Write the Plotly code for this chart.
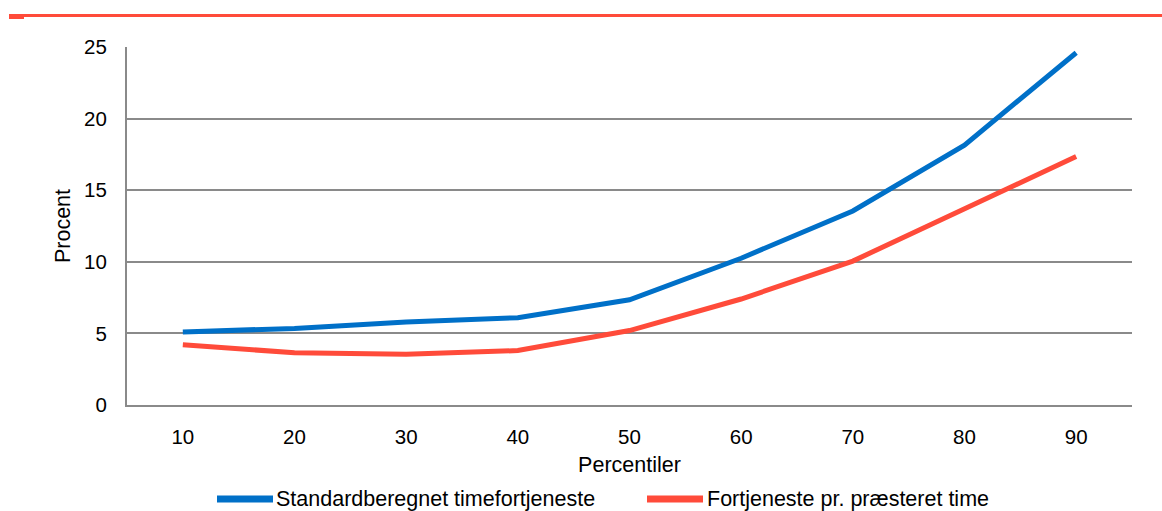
import plotly.graph_objects as go

# Percentiles on the x axis
percentiles = ["10", "20", "30", "40", "50", "60", "70", "80", "90"]

# Series values (percent)
standard_name = "Standardberegnet timefortjeneste"
standard_vals = [5.1, 5.35, 5.8, 6.1, 7.35, 10.25, 13.55, 18.15, 24.6]

performed_name = "Fortjeneste pr. præsteret time"
performed_vals = [4.2, 3.65, 3.55, 3.8, 5.2, 7.4, 10.05, 13.7, 17.35]

y_ticks = [0, 5, 10, 15, 20, 25]

BLUE = "#0070C8"
RED = "#FF4B3A"
GRID = "#8a8a8a"
FONT = "Liberation Sans, Arial, sans-serif"

W, H = 1162, 511
L, R, T, B = 127, 30, 47, 106
PW, PH = W - L - R, H - T - B


def px(x):
    return (x - L) / PW


def py(y):
    return (H - B - y) / PH


fig = go.Figure()
fig.add_trace(go.Scatter(x=percentiles, y=standard_vals, name=standard_name, mode="lines",
                         line=dict(color=BLUE, width=5), showlegend=False))
fig.add_trace(go.Scatter(x=percentiles, y=performed_vals, name=performed_name, mode="lines",
                         line=dict(color=RED, width=5), showlegend=False))

shapes = [
    # red rule across the top of the page
    dict(type="rect", xref="paper", yref="paper", x0=px(9), x1=px(W), y0=py(17), y1=py(14),
         fillcolor=RED, line=dict(width=0), layer="above"),
    dict(type="rect", xref="paper", yref="paper", x0=px(9), x1=px(24), y0=py(19), y1=py(14),
         fillcolor=RED, line=dict(width=0), layer="above"),
]

annotations = []
# legend drawn by hand with long line keys
legend_items = [(standard_name, BLUE, 217, 273, 274), (performed_name, RED, 647, 703, 705)]
for name, color, x0, x1, xt in legend_items:
    shapes.append(dict(type="line", xref="paper", yref="paper", x0=px(x0), x1=px(x1),
                       y0=py(499), y1=py(499), line=dict(color=color, width=7)))
    annotations.append(dict(text=name, xref="paper", yref="paper", x=px(xt), y=py(499),
                            xanchor="left", yanchor="middle", showarrow=False,
                            font=dict(family=FONT, size=21.5, color="#000000")))

fig.update_layout(
    width=W, height=H,
    margin=dict(l=L, r=R, t=T, b=B),
    paper_bgcolor="white", plot_bgcolor="white",
    font=dict(family=FONT, size=20, color="#000000"),
    shapes=shapes,
    annotations=annotations,
    showlegend=False,
)

fig.update_xaxes(
    type="category",
    range=[-0.5, len(percentiles) - 0.5],
    showgrid=False, showline=True, linecolor=GRID, linewidth=2,
    ticks="", ticklabelstandoff=12,
    title=dict(text="Percentiler", font=dict(size=21.5), standoff=10),
    tickfont=dict(size=20.5),
)
fig.update_yaxes(
    range=[0, 25], tickvals=y_ticks,
    showgrid=True, gridcolor=GRID, gridwidth=2,
    showline=True, linecolor=GRID, linewidth=2,
    zeroline=False, ticks="", ticklabelstandoff=14,
    title=dict(text="Procent", font=dict(size=21.5), standoff=8),
    tickfont=dict(size=20.5),
)

fig.write_html("out.html")
